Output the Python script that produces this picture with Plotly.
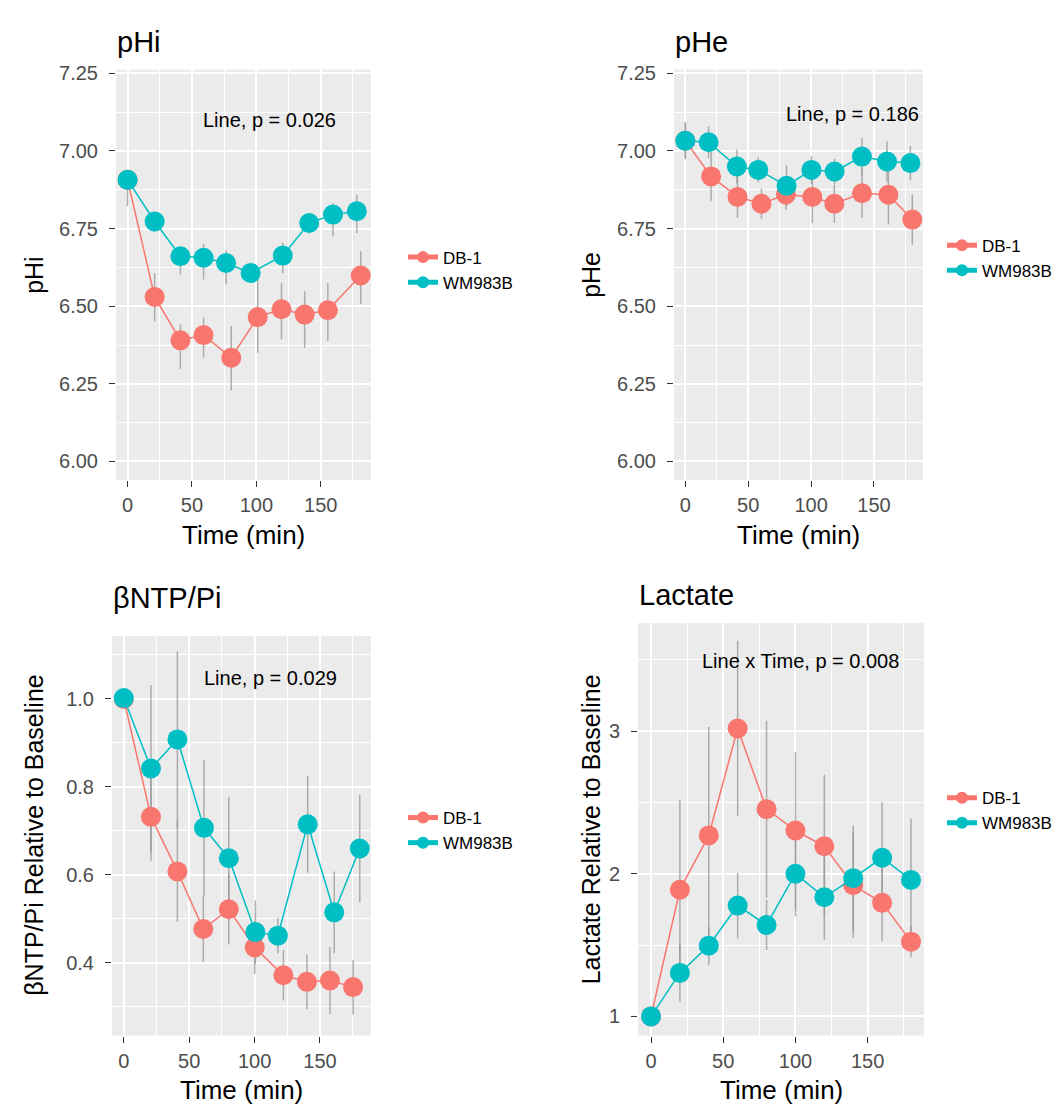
import plotly.graph_objects as go

# ---------------- data ----------------
series_names = ["DB-1", "WM983B"]
series_colors = ["#F8766D", "#00BFC4"]

# pHi  (points are slightly jittered in the original)
phi_x_db = [0, 21, 41, 59, 80.5, 101, 119.5, 137.5, 155.5, 181]
phi_db = [6.907, 6.530, 6.390, 6.407, 6.334, 6.465, 6.490, 6.473, 6.487, 6.599]
phi_db_lo = [6.822, 6.452, 6.297, 6.334, 6.229, 6.350, 6.393, 6.366, 6.388, 6.506]
phi_db_hi = [6.907, 6.607, 6.441, 6.463, 6.436, 6.591, 6.575, 6.548, 6.575, 6.677]
phi_x_wm = [0, 21, 41, 59, 76.5, 95.5, 120.5, 141, 159.5, 178]
phi_wm = [6.907, 6.773, 6.661, 6.656, 6.639, 6.607, 6.663, 6.768, 6.795, 6.806]
phi_wm_lo = [6.907, 6.740, 6.602, 6.586, 6.570, 6.580, 6.607, 6.735, 6.725, 6.736]
phi_wm_hi = [6.907, 6.800, 6.690, 6.700, 6.680, 6.640, 6.704, 6.800, 6.832, 6.859]

# pHe
phe_x_db = [0, 20.5, 41.5, 60.5, 80, 101, 118.5, 140.5, 161.5, 180.5]
phe_db = [7.033, 6.918, 6.852, 6.830, 6.860, 6.852, 6.830, 6.864, 6.859, 6.779]
phe_db_se = [0.06, 0.08, 0.068, 0.048, 0.05, 0.085, 0.062, 0.08, 0.096, 0.081]
phe_x_wm = [0, 18.5, 41, 58, 80.5, 100.3, 118.7, 140.4, 160.4, 179]
phe_wm = [7.033, 7.028, 6.950, 6.939, 6.888, 6.939, 6.934, 6.982, 6.966, 6.961]
phe_wm_se = [0.056, 0.051, 0.054, 0.04, 0.065, 0.045, 0.04, 0.06, 0.065, 0.055]

# beta NTP / Pi relative to baseline
ntp_x_db = [0, 20.8, 41, 60.8, 80.3, 100.1, 122, 140, 157.6, 175.3]
ntp_db = [1.0, 0.732, 0.608, 0.477, 0.522, 0.435, 0.372, 0.357, 0.360, 0.345]
ntp_db_se = [0, 0.10, 0.115, 0.075, 0.08, 0.06, 0.057, 0.062, 0.076, 0.062]
ntp_x_wm = [0, 20.8, 41, 61.3, 80.3, 100.6, 117.8, 140.6, 160.9, 180.4]
ntp_wm = [1.002, 0.842, 0.908, 0.707, 0.638, 0.470, 0.462, 0.715, 0.515, 0.660]
ntp_wm_se = [0, 0.19, 0.2, 0.155, 0.14, 0.072, 0.04, 0.11, 0.093, 0.122]

# Lactate relative to baseline
lac_x = [0, 20, 40, 60, 80, 100, 120, 140, 160, 180]
lac_db = [1.0, 1.888, 2.269, 3.018, 2.453, 2.303, 2.193, 1.920, 1.796, 1.524]
lac_db_se = [0, 0.63, 0.76, 0.615, 0.62, 0.55, 0.5, 0.37, 0.27, 0.11]
lac_wm = [1.0, 1.305, 1.496, 1.777, 1.641, 2.0, 1.835, 1.969, 2.112, 1.957]
lac_wm_se = [0, 0.2, 0.134, 0.23, 0.175, 0.3, 0.3, 0.37, 0.39, 0.43]

panel_titles = ["pHi", "pHe", "\u03b2NTP/Pi", "Lactate"]
y_titles = ["pHi", "pHe", "\u03b2NTP/Pi Relative to Baseline", "Lactate Relative to Baseline"]
x_title = "Time (min)"
p_texts = ["Line, p = 0.026", "Line, p = 0.186", "Line, p = 0.029", "Line x Time, p = 0.008"]

# ---------------- helpers ----------------
W, H = 1064, 1107
FONT = "Liberation Sans, Arial, sans-serif"


def px_x(p):
    return p / W


def px_y(p):
    return 1 - p / H


panels = [
    dict(xd=(108, 363), yd=(55, 468), yr=(5.94, 7.262), yt=[6.0, 6.25, 6.5, 6.75, 7.0, 7.25], fmt=".2f", ymin=0.125,
         ann=(110, 7.10)),
    dict(xd=(666, 915), yd=(55, 468), yr=(5.94, 7.262), yt=[6.0, 6.25, 6.5, 6.75, 7.0, 7.25], fmt=".2f", ymin=0.125,
         ann=(133, 7.12)),
    dict(xd=(104, 363), yd=(625, 1027), yr=(0.235, 1.143), yt=[0.4, 0.6, 0.8, 1.0], fmt=".1f", ymin=0.1,
         ann=(112, 1.047)),
    dict(xd=(630, 916), yd=(612, 1027), yr=(0.866, 3.757), yt=[1, 2, 3], fmt="d", ymin=0.5,
         ann=(103.6, 3.49)),
]

data = [
    [(phi_x_db, phi_db, [h - m for h, m in zip(phi_db_hi, phi_db)], [m - l for m, l in zip(phi_db, phi_db_lo)]),
     (phi_x_wm, phi_wm, [h - m for h, m in zip(phi_wm_hi, phi_wm)], [m - l for m, l in zip(phi_wm, phi_wm_lo)])],
    [(phe_x_db, phe_db, phe_db_se, phe_db_se), (phe_x_wm, phe_wm, phe_wm_se, phe_wm_se)],
    [(ntp_x_db, ntp_db, ntp_db_se, ntp_db_se), (ntp_x_wm, ntp_wm, ntp_wm_se, ntp_wm_se)],
    [(lac_x, lac_db, lac_db_se, lac_db_se), (lac_x, lac_wm, lac_wm_se, lac_wm_se)],
]

legend_pos = [(395, 226), (934, 214), (395, 790), (934, 770)]

fig = go.Figure()
layout = dict(
    width=W, height=H, margin=dict(l=0, r=0, t=0, b=0),
    paper_bgcolor="white", plot_bgcolor="#EBEBEB",
    font=dict(family=FONT, color="black"),
    annotations=[],
)

for i, pan in enumerate(panels):
    n = "" if i == 0 else str(i + 1)
    xa, ya = "x" + n, "y" + n
    leg = "legend" + n
    # error bars first (below lines and points)
    for (xs, ys, up, dn) in data[i]:
        fig.add_trace(go.Scatter(
            x=xs, y=ys, xaxis=xa, yaxis=ya, mode="markers",
            marker=dict(size=1, color="rgba(0,0,0,0)"),
            error_y=dict(type="data", symmetric=False, array=up, arrayminus=dn,
                         color="rgba(150,150,150,0.75)", thickness=1.5, width=0),
            showlegend=False, hoverinfo="skip"))
    for k, (xs, ys, up, dn) in enumerate(data[i]):
        fig.add_trace(go.Scatter(
            x=xs, y=ys, xaxis=xa, yaxis=ya, mode="lines+markers",
            name=series_names[k], legend=leg,
            line=dict(color=series_colors[k], width=1.5),
            marker=dict(size=20, color=series_colors[k]),
        ))

    axis_common = dict(
        showline=False, zeroline=False, showgrid=True, gridcolor="white", gridwidth=1.5,
        ticks="outside", ticklen=6, tickwidth=1.2, tickcolor="#333333",
        tickfont=dict(family=FONT, size=20, color="#4D4D4D"),
    )
    layout["xaxis" + n] = dict(
        axis_common, domain=[px_x(pan["xd"][0]), px_x(pan["xd"][1])], anchor=ya,
        range=[-9, 189], tickvals=[0, 50, 100, 150], ticklabelstandoff=1,
        minor=dict(tickvals=[25, 75, 125, 175], showgrid=True, gridcolor="white", gridwidth=0.8, ticks=""),
    )
    layout["yaxis" + n] = dict(
        axis_common, domain=[px_y(pan["yd"][1]), px_y(pan["yd"][0])], anchor=xa,
        range=list(pan["yr"]), tickvals=pan["yt"], tickformat=pan["fmt"],
        ticklabelstandoff=7,
        minor=dict(dtick=pan["ymin"], tick0=0, showgrid=True, gridcolor="white", gridwidth=0.8, ticks=""),
    )
    # legend
    lx, ly = legend_pos[i]
    layout[leg] = dict(
        x=px_x(lx), y=px_y(ly), xanchor="left", yanchor="top",
        bgcolor="rgba(0,0,0,0)", font=dict(family=FONT, size=17, color="black"),
        itemsizing="constant", tracegroupgap=0,
    )
    x0, x1 = pan["xd"]
    y0, y1 = pan["yd"]
    # panel title
    layout["annotations"].append(dict(
        text=panel_titles[i], xref="paper", yref="paper", x=px_x(x0 - 1), y=px_y(y0 - 28) if i != 2 else px_y(587),
        xanchor="left", yanchor="middle", showarrow=False,
        font=dict(family=FONT, size=29, color="black")))
    # x-axis title
    layout["annotations"].append(dict(
        text=x_title, xref="paper", yref="paper", x=px_x((x0 + x1) / 2), y=px_y(y1 + 38),
        xanchor="center", yanchor="top", showarrow=False, height=30,
        font=dict(family=FONT, size=26, color="black")))
    # y-axis title
    ytx = 26 if i in (0, 2) else 583
    layout["annotations"].append(dict(
        text=y_titles[i], xref="paper", yref="paper", x=px_x(ytx), y=px_y((y0 + y1) / 2),
        xanchor="center", yanchor="middle", textangle=-90, showarrow=False,
        font=dict(family=FONT, size=25, color="black")))
    # p-value annotation
    layout["annotations"].append(dict(
        text=p_texts[i], xref=xa, yref=ya, x=pan["ann"][0], y=pan["ann"][1],
        xanchor="center", yanchor="middle", showarrow=False,
        font=dict(family=FONT, size=20, color="black")))

fig.update_layout(**layout)
fig.write_html("out.html")
